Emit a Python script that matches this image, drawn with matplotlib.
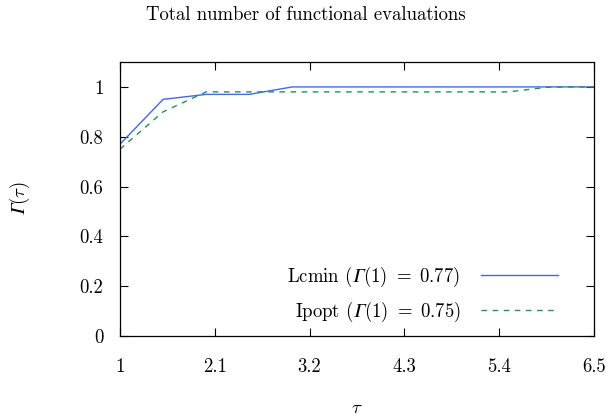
import numpy as np
import matplotlib
matplotlib.use("Agg")
import matplotlib.pyplot as plt

plt.rcParams['font.family'] = 'serif'
plt.rcParams['font.serif'] = ['cmr10']
plt.rcParams['mathtext.fontset'] = 'cm'
plt.rcParams['axes.formatter.use_mathtext'] = True

tau = [1.0, 1.5, 2.0, 2.5, 3.0, 3.5, 4.0, 4.5, 5.0, 5.5, 6.0, 6.5]
lcmin = [0.77, 0.95, 0.97, 0.97, 1.0, 1.0, 1.0, 1.0, 1.0, 1.0, 1.0, 1.0]
ipopt = [0.75, 0.90, 0.98, 0.98, 0.98, 0.98, 0.98, 0.98, 0.98, 0.98, 1.0, 1.0]

xticks = [1, 2.1, 3.2, 4.3, 5.4, 6.5]
yticks = [0, 0.2, 0.4, 0.6, 0.8, 1]

G = '\U0001D6E4'  # italic capital gamma
fs = 13.5

fig = plt.figure(figsize=(6.11, 4.18), dpi=100)
ax = fig.add_axes([120 / 611, 1 - 336 / 418, 474 / 611, 274 / 418])

ax.plot(tau, lcmin, color='#4169e1', lw=1.0,
        label='Lcmin ($' + G + r'(1)\ =\ 0.77$)')
ax.plot(tau, ipopt, color='#2e8b57', lw=1.0, ls=(0, (4, 4)),
        label='Ipopt ($' + G + r'(1)\ =\ 0.75$)')

ax.set_xlim(1, 6.5)
ax.set_ylim(0, 1.1)
ax.set_xticks(xticks)
ax.set_xticklabels([str(x) for x in xticks])
ax.set_yticks(yticks)
ax.set_yticklabels(['0', '0.2', '0.4', '0.6', '0.8', '1'])
ax.tick_params(direction='in', top=True, right=True, length=6, width=0.8,
               labelsize=fs)
ax.tick_params(axis='x', pad=16)
ax.tick_params(axis='y', pad=12)
for s in ax.spines.values():
    s.set_linewidth(0.9)

ax.set_xlabel(r'$\tau$', fontsize=fs, labelpad=16.5)
ax.set_ylabel('$' + G + r'(\tau)$', fontsize=fs, labelpad=34)
fig.text(306 / 611, 1 - 15 / 418, 'Total number of functional evaluations',
         ha='center', va='center', fontsize=fs)

ax.legend(loc='lower right', markerfirst=False, frameon=False, fontsize=fs,
          handlelength=4.1, handletextpad=1.1, labelspacing=0.55,
          borderaxespad=0, bbox_to_anchor=(0.94, 0.018))

fig.savefig('out.png', dpi=100)
